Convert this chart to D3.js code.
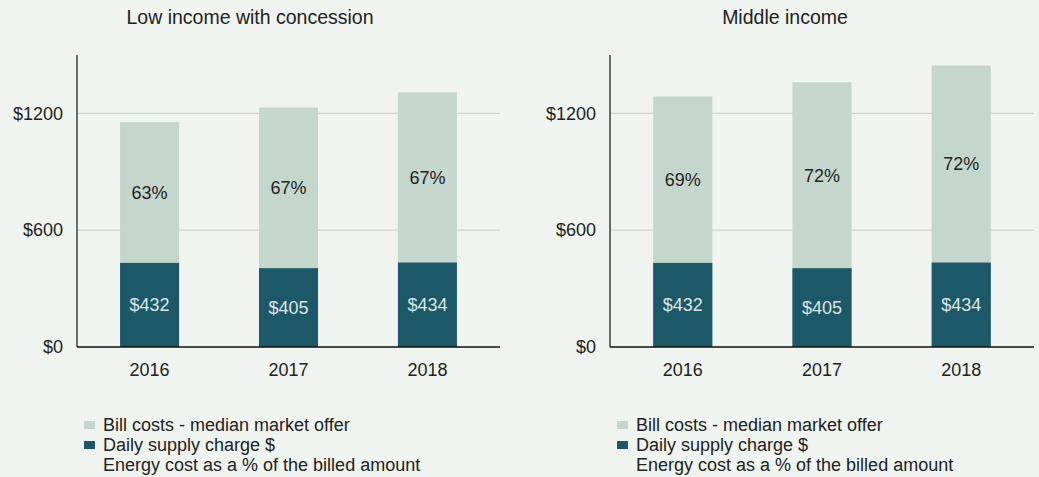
<!DOCTYPE html>
<html>
<head>
<meta charset="utf-8">
<script src="https://cdnjs.cloudflare.com/ajax/libs/d3/7.8.5/d3.min.js"></script>
<style>
  html, body { margin: 0; padding: 0; background: #eff4f0; }
  svg { display: block; font-family: "Liberation Sans", Arial, sans-serif; }
</style>
</head>
<body>
<svg id="chart" width="1039" height="477"></svg>
<script>
// Bill composition by household type
const years = ["2016", "2017", "2018"];
const supplyCharge = [432, 405, 434];                 // daily supply charge $
const lowIncomeBill = [1155, 1230, 1308];             // median market offer, low income with concession
const middleIncomeBill = [1287, 1360, 1446];          // median market offer, middle income
const lowIncomeEnergyPct = [63, 67, 67];
const middleIncomeEnergyPct = [69, 72, 72];
const yTicks = [0, 600, 1200];
const legendItems = ["Bill costs - median market offer", "Daily supply charge $", "Energy cost as a % of the billed amount"];

// panel layout
const panels = [
  { title: "Low income with concession", bill: lowIncomeBill, pct: lowIncomeEnergyPct, x0: 77, x1: 500, titleX: 250, legendX: 84 },
  { title: "Middle income", bill: middleIncomeBill, pct: middleIncomeEnergyPct, x0: 610, x1: 1034, titleX: 785, legendX: 617 }
];

const C = { light: "#c5d7cd", dark: "#1d5869", grid: "#cfd3d1", text: "#222222", axis: "#111111" };
const FS = 18;
const svg = d3.select("#chart");

const y = d3.scaleLinear().domain([0, 1500]).range([347, 55]);

panels.forEach(p => {
  const g = svg.append("g");
  const x = d3.scaleBand().domain(years).range([p.x0, p.x1]).paddingInner(0.575).paddingOuter(0.31);

  // title
  g.append("text")
    .attr("x", p.titleX).attr("y", 24)
    .attr("text-anchor", "middle")
    .attr("font-size", 19.5).attr("fill", C.text)
    .text(p.title);

  // gridlines
  g.selectAll(".grid").data(yTicks.filter(t => t > 0)).join("line")
    .attr("x1", p.x0).attr("x2", p.x1)
    .attr("y1", d => y(d)).attr("y2", d => y(d))
    .attr("stroke", C.grid).attr("stroke-width", 1.2);

  // y axis
  const yAxis = g.append("g").attr("transform", `translate(${p.x0},0)`)
    .call(d3.axisLeft(y).tickValues(yTicks).tickSize(0).tickPadding(14).tickFormat(d => "$" + d));
  yAxis.select(".domain").remove();
  yAxis.selectAll("text").attr("font-size", FS).attr("fill", C.text).attr("font-family", null);
  g.append("line")
    .attr("x1", p.x0).attr("x2", p.x0)
    .attr("y1", y(1500)).attr("y2", y(0))
    .attr("stroke", C.axis).attr("stroke-width", 1.2);

  // bill cost bars (full height), supply charge drawn on top from the baseline
  g.selectAll(".bill").data(years).join("rect")
    .attr("x", d => x(d)).attr("width", x.bandwidth())
    .attr("y", (d, i) => y(p.bill[i])).attr("height", (d, i) => y(0) - y(p.bill[i]))
    .attr("fill", C.light);
  g.selectAll(".supply").data(years).join("rect")
    .attr("x", d => x(d)).attr("width", x.bandwidth())
    .attr("y", (d, i) => y(supplyCharge[i])).attr("height", (d, i) => y(0) - y(supplyCharge[i]))
    .attr("fill", C.dark);

  // labels
  g.selectAll(".pct").data(years).join("text")
    .attr("x", d => x(d) + x.bandwidth() / 2)
    .attr("y", (d, i) => (y(p.bill[i]) + y(supplyCharge[i])) / 2)
    .attr("dy", "0.35em").attr("text-anchor", "middle")
    .attr("font-size", FS).attr("fill", C.text)
    .text((d, i) => p.pct[i] + "%");
  g.selectAll(".sup").data(years).join("text")
    .attr("x", d => x(d) + x.bandwidth() / 2)
    .attr("y", (d, i) => (y(supplyCharge[i]) + y(0)) / 2)
    .attr("dy", "0.35em").attr("text-anchor", "middle")
    .attr("font-size", FS).attr("fill", "#dae7e4")
    .text((d, i) => "$" + supplyCharge[i]);

  // baseline and x axis
  const xAxis = g.append("g").attr("transform", `translate(0,${y(0)})`)
    .call(d3.axisBottom(x).tickSize(0).tickPadding(16));
  xAxis.select(".domain").remove();
  xAxis.selectAll("text").attr("font-size", FS).attr("fill", C.text).attr("font-family", null);
  g.append("line")
    .attr("x1", p.x0).attr("x2", p.x1)
    .attr("y1", y(0)).attr("y2", y(0))
    .attr("stroke", C.axis).attr("stroke-width", 1.4);

  // legend
  const lg = g.append("g").attr("transform", `translate(${p.legendX},0)`);
  const swatch = [C.light, C.dark, null];
  legendItems.forEach((t, i) => {
    const cy = 425 + i * 20;
    if (swatch[i]) lg.append("rect").attr("x", 0).attr("y", cy - 4).attr("width", 11).attr("height", 8).attr("fill", swatch[i]);
    lg.append("text").attr("x", 19).attr("y", cy).attr("dy", "0.35em")
      .attr("font-size", FS).attr("fill", C.text).text(t);
  });
});
</script>
</body>
</html>
